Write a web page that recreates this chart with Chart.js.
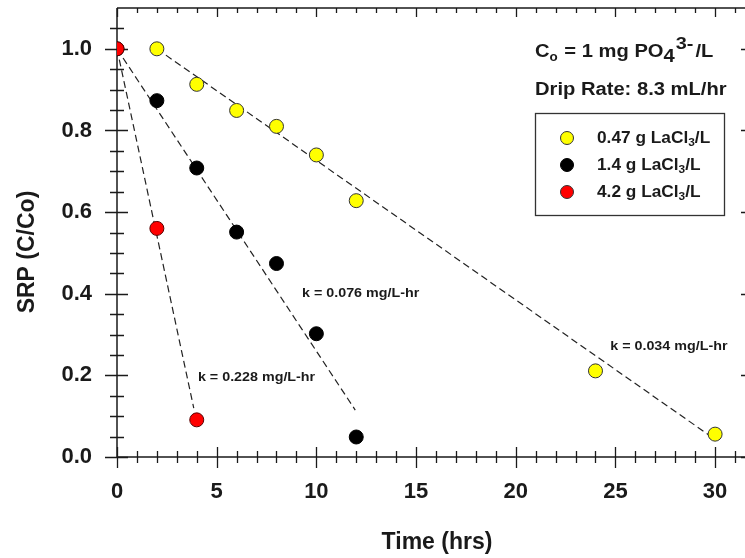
<!DOCTYPE html>
<html lang="en">
<head>
<meta charset="UTF-8">
<title>SRP vs Time</title>
<script src="https://cdn.jsdelivr.net/npm/chart.js"></script>
<style>
  html, body { margin: 0; padding: 0; background: #fff; overflow: hidden; }
  #chartBox { width: 745px; height: 558px; overflow: hidden; }
</style>
</head>
<body>
<div id="chartBox">
  <!-- a little wider than the window: the right frame of the original is cut off -->
  <canvas id="srpChart" width="757" height="558"></canvas>
</div>
<script>
    // measured points (time in hrs, SRP as C/Co)
    const timeYellow = [2, 4, 6, 8, 10, 12, 24, 30];
    const srpYellow = [1.0, 0.913, 0.849, 0.81, 0.74, 0.628, 0.211, 0.056];
    const timeBlack = [0, 2, 4, 6, 8, 10, 12];
    const srpBlack = [1.0, 0.873, 0.708, 0.551, 0.474, 0.302, 0.049];
    const timeRed = [0, 2, 4];
    const srpRed = [1.0, 0.56, 0.091];

    // fitted lines (end points)
    const fitYellowX = [2, 29.8];
    const fitYellowY = [1.0, 0.05];
    const fitBlackX = [0, 11.95];
    const fitBlackY = [1.0, 0.115];
    const fitRedX = [0, 3.85];
    const fitRedY = [1.0, 0.12];

    // legend and labels
    const seriesNames = ['0.47 g LaCl', '1.4 g LaCl', '4.2 g LaCl'];
    const rateLabels = ['k = 0.228 mg/L-hr', 'k = 0.076 mg/L-hr', 'k = 0.034 mg/L-hr'];
    const rateAt = [[4.06, 0.195], [9.28, 0.40], [24.74, 0.271]];
    const xTicks = [0, 5, 10, 15, 20, 25, 30];
    const yTicks = [0.0, 0.2, 0.4, 0.6, 0.8, 1.0];

    const FONT = "'Liberation Sans', Arial, sans-serif";
    const INK = '#1a1a1a';
    const colYellow = '#ffff00';
    const colBlack = '#000000';
    const colRed = '#ff0000';

    function toXY(xs, ys) {
        return xs.map((x, i) => ({ x: x, y: ys[i] }));
    }

    function fitLine(xs, ys) {
        return {
            data: toXY(xs, ys), showLine: true, borderColor: '#222', borderWidth: 1.2,
            borderDash: [7, 4], pointRadius: 0, fill: false, order: 5
        };
    }

    // no label padding reserved at the ends of the axes
    function noPad(s) {
        s.paddingTop = 0; s.paddingBottom = 0; s.paddingLeft = 0; s.paddingRight = 0;
    }

    // the original text is a bit wide, so stretch it sideways
    function wideText(c, s, x, y, sx) {
        c.save();
        c.translate(x, y);
        c.scale(sx, 1);
        c.fillText(s, 0, 0);
        c.restore();
        return c.measureText(s).width * sx;
    }

    // axes with ticks crossing the line, like the original plot
    const frameAxes = {
        id: 'frameAxes',
        beforeDatasetsDraw(chart) {
            const ctx = chart.ctx;
            const a = chart.chartArea;
            const xs = chart.scales.x, ys = chart.scales.y;
            ctx.save();
            ctx.strokeStyle = INK;
            ctx.lineWidth = 1.5;
            ctx.beginPath();
            ctx.moveTo(a.left, a.top); ctx.lineTo(a.left, a.bottom);
            ctx.moveTo(a.left, a.bottom); ctx.lineTo(a.right, a.bottom);
            ctx.moveTo(a.left, a.top); ctx.lineTo(a.right, a.top);
            ctx.moveTo(a.right - 0.5, a.top); ctx.lineTo(a.right - 0.5, a.bottom);
            ctx.stroke();

            ctx.lineWidth = 1.3;
            ctx.beginPath();
            // y ticks every 0.05, major every 0.2
            for (let i = 0; i <= 21; i++) {
                const v = i * 0.05;
                const py = Math.round(ys.getPixelForValue(v)) + 0.5;
                const major = i % 4 === 0;
                ctx.moveTo(a.left - (major ? 12 : 7), py); ctx.lineTo(a.left + (major ? 11 : 7), py);
                ctx.moveTo(a.right, py); ctx.lineTo(a.right - (major ? 8 : 4), py);
            }
            // x ticks every 1 hr, major every 5
            for (let t = 0; t <= 31; t++) {
                const px = Math.round(xs.getPixelForValue(t)) + 0.5;
                const major = t % 5 === 0;
                ctx.moveTo(px, a.bottom - (major ? 10 : 6)); ctx.lineTo(px, a.bottom + (major ? 11 : 6));
                ctx.moveTo(px, a.top); ctx.lineTo(px, a.top + (major ? 9 : 5));
            }
            ctx.stroke();

            // axis titles
            ctx.fillStyle = INK;
            ctx.font = 'bold 23px ' + FONT;
            ctx.textAlign = 'center';
            ctx.textBaseline = 'middle';
            ctx.fillText('Time (hrs)', 437, 543);
            ctx.translate(28, 252);
            ctx.rotate(-Math.PI / 2);
            ctx.fillText('SRP (C/Co)', 0, 0);
            ctx.restore();
        },
        afterDraw(chart) {
            const ctx = chart.ctx;
            const xs = chart.scales.x, ys = chart.scales.y;
            ctx.save();
            ctx.fillStyle = INK;
            ctx.textBaseline = 'middle';
            ctx.textAlign = 'left';

            // rate constants
            ctx.font = 'bold 13px ' + FONT;
            rateLabels.forEach((s, i) => {
                wideText(ctx, s, xs.getPixelForValue(rateAt[i][0]), ys.getPixelForValue(rateAt[i][1]), 1.1);
            });

            // C_o = 1 mg PO4 3- /L
            ctx.textBaseline = 'alphabetic';
            const sx = 1.12;
            let x = 535, y = 57;
            ctx.font = 'bold 18px ' + FONT;
            x += wideText(ctx, 'C', x, y, sx);
            ctx.font = 'bold 12px ' + FONT;
            x += wideText(ctx, 'o', x, y + 4, sx) + 1;
            ctx.font = 'bold 18px ' + FONT;
            x += wideText(ctx, ' = 1 mg PO', x, y, sx);
            x += wideText(ctx, '4', x, y + 5, sx) + 1;
            ctx.font = 'bold 17px ' + FONT;
            x += wideText(ctx, '3-', x, y - 8, sx + 0.05) + 2;
            ctx.font = 'bold 18px ' + FONT;
            wideText(ctx, '/L', x, y, sx);

            wideText(ctx, 'Drip Rate: 8.3 mL/hr', 535, 95, sx);

            // legend box
            ctx.strokeStyle = '#333';
            ctx.lineWidth = 1.3;
            ctx.strokeRect(535.5, 113.5, 189, 102);
            const fills = [colYellow, colBlack, colRed];
            const rows = [138, 165, 192];
            rows.forEach((ry, i) => {
                ctx.beginPath();
                ctx.arc(567, ry, 6.5, 0, Math.PI * 2);
                ctx.fillStyle = fills[i];
                ctx.fill();
                ctx.strokeStyle = i === 1 ? '#000' : '#333';
                ctx.lineWidth = 1;
                ctx.stroke();
                ctx.fillStyle = INK;
                let lx = 597;
                ctx.font = 'bold 16px ' + FONT;
                lx += wideText(ctx, seriesNames[i], lx, ry + 5, 1.08);
                ctx.font = 'bold 11px ' + FONT;
                lx += wideText(ctx, '3', lx, ry + 8, 1.08);
                ctx.font = 'bold 16px ' + FONT;
                wideText(ctx, '/L', lx, ry + 5, 1.08);
            });
            ctx.restore();
        }
    };

    const ctx = document.getElementById('srpChart');
    const srpChart = new Chart(ctx, {
        type: 'scatter',
        data: {
            datasets: [
                { label: seriesNames[2], data: toXY(timeRed, srpRed), backgroundColor: colRed, borderColor: '#5a0000', borderWidth: 1, pointRadius: 7, order: 0 },
                { label: seriesNames[1], data: toXY(timeBlack, srpBlack), backgroundColor: colBlack, borderColor: '#000', borderWidth: 1, pointRadius: 7, order: 1 },
                { label: seriesNames[0], data: toXY(timeYellow, srpYellow), backgroundColor: colYellow, borderColor: '#333', borderWidth: 1, pointRadius: 7, order: 2 },
                fitLine(fitYellowX, fitYellowY),
                fitLine(fitBlackX, fitBlackY),
                fitLine(fitRedX, fitRedY)
            ]
        },
        options: {
            responsive: false,
            animation: false,
            devicePixelRatio: 1,
            layout: { padding: { top: 8, right: 0, left: 0, bottom: 0 } },
            plugins: { legend: { display: false }, tooltip: { enabled: false } },
            scales: {
                x: {
                    type: 'linear', min: 0, max: 31.7,
                    grid: { display: false, drawTicks: false }, border: { display: false },
                    afterBuildTicks: (s) => { s.ticks = xTicks.map(v => ({ value: v })); },
                    afterFit: (s) => { s.height = 101; noPad(s); },
                    ticks: { padding: 22, color: INK, font: { family: FONT, size: 22, weight: 'bold' }, maxRotation: 0,
                             callback: (v) => String(v) }
                },
                y: {
                    type: 'linear', min: 0, max: 1.1,
                    grid: { display: false, drawTicks: false }, border: { display: false },
                    afterBuildTicks: (s) => { s.ticks = yTicks.map(v => ({ value: v })); },
                    afterFit: (s) => { s.width = 117; noPad(s); },
                    ticks: { padding: 25, color: INK, font: { family: FONT, size: 22, weight: 'bold' },
                             callback: (v) => Number(v).toFixed(1) }
                }
            }
        },
        plugins: [frameAxes]
    });
</script>
</body>
</html>
